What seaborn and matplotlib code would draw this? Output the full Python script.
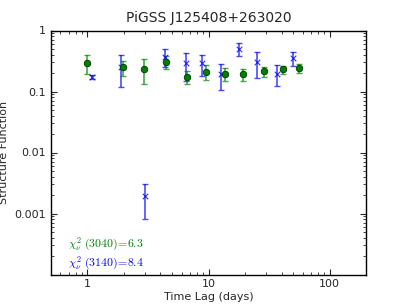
import numpy as np
import matplotlib
matplotlib.use('Agg')
import matplotlib.pyplot as plt
import seaborn as sns
import pandas as pd

# 3040 band (green)
lag_3040 = [1.0, 1.95, 2.94, 4.44, 6.6, 9.6, 13.6, 19.4, 28.5, 40.9, 55.4]
sf_3040 = [0.293, 0.252, 0.236, 0.308, 0.173, 0.211, 0.194, 0.192, 0.214, 0.231, 0.240]
err_3040 = [0.099, 0.070, 0.105, 0.070, 0.040, 0.058, 0.045, 0.045, 0.042, 0.035, 0.041]

# 3140 band (blue)
lag_3140 = [1.085, 1.91, 2.98, 4.33, 6.54, 8.87, 12.7, 17.8, 25.3, 36.7, 49.7]
sf_3140 = [0.173, 0.255, 0.0019, 0.372, 0.290, 0.290, 0.192, 0.497, 0.301, 0.196, 0.350]
err_3140 = [0.013, 0.137, 0.0011, 0.120, 0.140, 0.110, 0.088, 0.120, 0.136, 0.073, 0.093]

chi2_3040 = 6.3
chi2_3140 = 8.4

sns.set_style('ticks')
plt.rcParams.update({
    'xtick.direction': 'in', 'ytick.direction': 'in',
    'xtick.top': True, 'ytick.right': True,
    'xtick.major.size': 4, 'ytick.major.size': 4,
    'xtick.minor.size': 2, 'ytick.minor.size': 2,
    'axes.linewidth': 1.0, 'axes.edgecolor': 'black',
    'mathtext.fontset': 'cm',
})

df_g = pd.DataFrame({'lag': lag_3040, 'sf': sf_3040})
df_b = pd.DataFrame({'lag': lag_3140, 'sf': sf_3140})

fig, ax = plt.subplots(figsize=(4.07, 3.05), dpi=100)
fig.subplots_adjust(left=0.125, right=0.9, bottom=0.1, top=0.9)

ax.errorbar(lag_3140, sf_3140, yerr=err_3140, fmt='none', ecolor='b',
            alpha=0.7, capsize=2, elinewidth=1.2, capthick=1)
sns.scatterplot(data=df_b, x='lag', y='sf', ax=ax, marker='x', color='b',
                s=16, linewidth=0.8, alpha=0.8, zorder=3)
ax.errorbar(lag_3040, sf_3040, yerr=err_3040, fmt='none', ecolor='g',
            alpha=0.7, capsize=2, elinewidth=1.2, capthick=1)
sns.scatterplot(data=df_g, x='lag', y='sf', ax=ax, marker='o', color='g',
                s=22, edgecolor='#003300', linewidth=0.6, zorder=4)

ax.set_xscale('log')
ax.set_yscale('log')
ax.set_xlim(0.5, 200)
ax.set_ylim(1e-4, 1)
ax.set_xticks([1, 10, 100])
ax.set_xticklabels(['1', '10', '100'])
ax.set_yticks([0.001, 0.01, 0.1, 1])
ax.set_yticklabels(['0.001', '0.01', '0.1', '1'])
ax.tick_params(labelsize=8)

ax.set_xlabel('Time Lag (days)', fontsize=8, labelpad=2)
ax.set_ylabel('Structure Function', fontsize=8)
ax.set_title('PiGSS J125408+263020', fontsize=10)

ax.text(0.054, 0.125, r'$\chi^2_\nu\ (3040)\!=\!%.1f$' % chi2_3040, color='g',
        fontsize=8.5, transform=ax.transAxes, va='center')
ax.text(0.054, 0.047, r'$\chi^2_\nu\ (3140)\!=\!%.1f$' % chi2_3140, color='b',
        fontsize=8.5, transform=ax.transAxes, va='center')

fig.savefig('out.png', dpi=100)
